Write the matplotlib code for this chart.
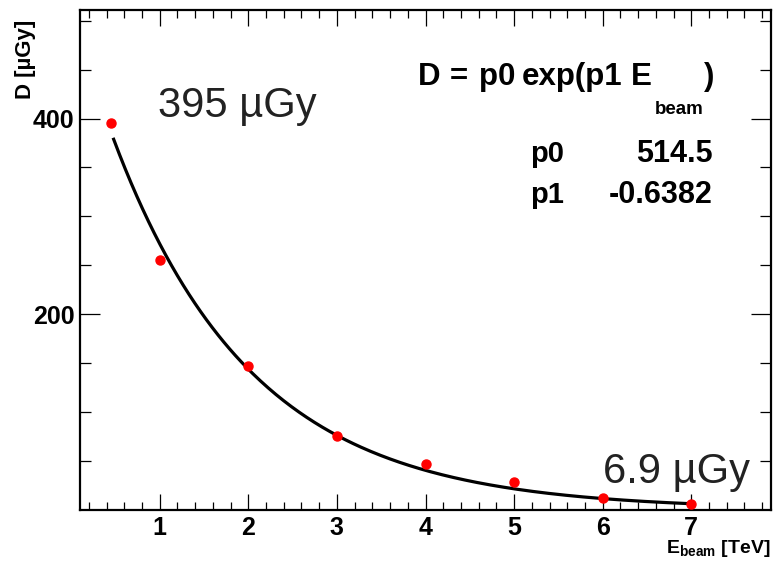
import numpy as np
import matplotlib
matplotlib.use("Agg")
import matplotlib.pyplot as plt
from matplotlib.ticker import MultipleLocator, FixedLocator

plt.rcParams['font.family'] = ['Liberation Sans', 'DejaVu Sans']
plt.rcParams['mathtext.fontset'] = 'custom'
plt.rcParams['mathtext.rm'] = 'Liberation Sans'
plt.rcParams['mathtext.bf'] = 'Liberation Sans:bold'
plt.rcParams['mathtext.it'] = 'Liberation Sans:italic'

# Data
energy_tev = [0.45, 1, 2, 3, 4, 5, 6, 7]
dose_ugy = [395, 255.5, 147, 75, 47, 28, 11.5, 5.5]
p0 = 514.5
p1 = -0.6382
fit_range = (0.48, 7.0)
xticks = [1, 2, 3, 4, 5, 6, 7]
yticks = [200, 400]

W, H = 773, 561
fig = plt.figure(figsize=(W/100, H/100), dpi=100)
ax = fig.add_axes([80/W, 1-509.5/H, (771-80)/W, (509.5-10)/H])

ax.set_xlim(0.1, 7.9)
ax.set_ylim(0, 511)

# fit curve
xf = np.linspace(fit_range[0], fit_range[1], 300)
ax.plot(xf, p0*np.exp(p1*xf), color='black', lw=2.3, zorder=2)

# points
ax.plot(energy_tev, dose_ugy, 'o', color='#ff0000', ms=6.5, mec='#ff0000', zorder=3)

# ticks
ax.xaxis.set_major_locator(FixedLocator(xticks))
ax.xaxis.set_minor_locator(MultipleLocator(0.2))
ax.yaxis.set_major_locator(FixedLocator(yticks))
ax.yaxis.set_minor_locator(FixedLocator([50, 100, 150, 250, 300, 350, 450, 500]))
ax.tick_params(which='both', direction='in', top=True, right=True, width=0.9, color='black')
ax.tick_params(axis='x', which='major', length=11.5, labelsize=18, pad=5)
ax.tick_params(axis='x', which='minor', length=5.8)
ax.tick_params(axis='y', which='major', length=14.5, labelsize=18, pad=4)
ax.tick_params(axis='y', which='minor', length=7.8)
for lab in ax.get_xticklabels() + ax.get_yticklabels():
    lab.set_fontweight('bold')
for s in ax.spines.values():
    s.set_linewidth(1.6)

# axis titles
fig.text(25/W, 1-20/H, 'D [\u00b5Gy]', rotation=90, ha='center', va='top',
         fontsize=16, fontweight='bold')
fig.text(770/W, 1-553/H, r'$\mathbf{E_{beam}}$ [TeV]', ha='right', va='baseline',
         fontsize=14, fontweight='bold')

# annotations
fig.text(158/W, 1-117/H, '395 \u00b5Gy', fontsize=30,
         color='#222222', ha='left', va='baseline')
fig.text(603/W, 1-483/H, '6.9 \u00b5Gy', fontsize=30,
         color='#222222', ha='left', va='baseline')

# fit box text (ROOT-like wide spacing)
formula_parts = [('D', 418), ('=', 450), ('p0', 479), ('exp(p1', 522), ('E', 631)]
for txt, xp in formula_parts:
    fig.text(xp/W, 1-85/H, txt, ha='left', va='baseline',
             fontsize=22.5, fontweight='bold')
fig.text(655/W, 1-114/H, 'beam', ha='left', va='baseline',
         fontsize=13.5, fontweight='bold')
fig.text(714/W, 1-85/H, ')', ha='right', va='baseline',
         fontsize=22.5, fontweight='bold')
fig.text(530/W, 1-161.7/H, 'p0', ha='left', va='baseline', fontsize=21, fontweight='bold')
fig.text(713/W, 1-161.7/H, f'{p0:g}', ha='right', va='baseline', fontsize=22, fontweight='bold')
fig.text(530/W, 1-203/H, 'p1', ha='left', va='baseline', fontsize=21, fontweight='bold')
fig.text(713/W, 1-203/H, f'{p1:g}', ha='right', va='baseline', fontsize=22, fontweight='bold')

fig.savefig('out.png', dpi=100)
